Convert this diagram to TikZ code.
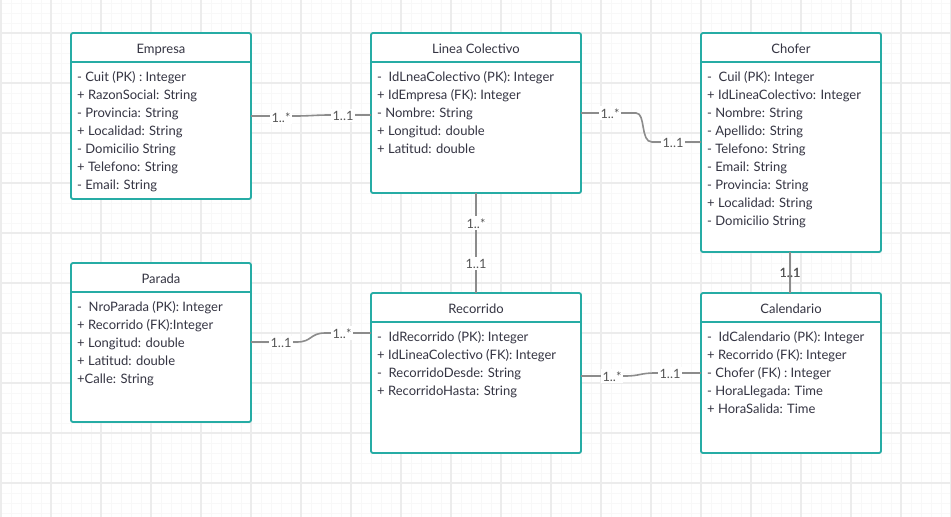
\documentclass[tikz,border=0pt]{standalone}
\usepackage{fontspec}
\setmainfont{Lato}
\usetikzlibrary{calc}
\definecolor{teal1}{RGB}{38,172,165}
\definecolor{txt}{RGB}{52,52,66}
\definecolor{conncol}{RGB}{140,140,140}
\definecolor{lblcol}{RGB}{85,85,85}
\definecolor{gridminor}{RGB}{248,248,248}
\definecolor{gridmajor}{RGB}{236,236,236}
\tikzset{
  umlbox/.style={draw=teal1, line width=1.8pt, rounded corners=2pt, fill=white, outer sep=0pt, inner sep=0pt, anchor=north west},
  hdr/.style={draw=teal1, line width=1.8pt},
  ttl/.style={font=\fontsize{13}{15}\selectfont, text=txt, anchor=mid, inner sep=0pt, yshift=-2.5pt},
  attr/.style={font=\fontsize{13}{15}\selectfont, text=txt, anchor=mid west, inner sep=0pt, yshift=-2.5pt},
  conn/.style={draw=conncol, line width=1.6pt},
  mult/.style={font=\fontsize{12.8}{14}\selectfont, text=lblcol, fill=white, inner sep=2pt, anchor=mid, yshift=-2.5pt},
  multnf/.style={font=\fontsize{12.8}{14}\selectfont, text=lblcol, inner sep=0pt, anchor=mid, yshift=-2.5pt},
}
\begin{document}
\begin{tikzpicture}[x=1pt,y=-1pt]
\useasboundingbox (0,0) rectangle (951,517);
\fill[white] (0,0) rectangle (951,517);
% grid
\foreach \x in {1,11,...,951} \draw[gridminor, line width=0.8pt] (\x,0) -- (\x,517);
\foreach \y in {3,13,...,517} \draw[gridminor, line width=0.8pt] (0,\y) -- (951,\y);
\foreach \x in {1,51,...,951} \draw[gridmajor, line width=1.2pt] (\x,0) -- (\x,517);
\foreach \y in {33,83,...,517} \draw[gridmajor, line width=1.2pt] (0,\y) -- (951,\y);

% boxes
\node[umlbox, minimum width=180pt, minimum height=166pt] (empresa) at (71,33) {};
\node[umlbox, minimum width=210pt, minimum height=160pt] (linea) at (371,33) {};
\node[umlbox, minimum width=180pt, minimum height=219pt] (chofer) at (701,33) {};
\node[umlbox, minimum width=180pt, minimum height=159pt] (parada) at (71,263) {};
\node[umlbox, minimum width=210pt, minimum height=160pt] (recorrido) at (371,293) {};
\node[umlbox, minimum width=180pt, minimum height=160pt] (calendario) at (701,293) {};

\foreach \b in {empresa,linea,chofer,parada,recorrido,calendario}
  \draw[hdr] ([shift={(0,29)}]\b.north west) -- ([shift={(0,29)}]\b.north east);

% titles
\node[ttl] at ([shift={(0,15)}]empresa.north) {Empresa};
\node[ttl] at ([shift={(0,15)}]linea.north) {Linea Colectivo};
\node[ttl] at ([shift={(0,15)}]chofer.north) {Chofer};
\node[ttl] at ([shift={(0,15)}]parada.north) {Parada};
\node[ttl] at ([shift={(0,15)}]recorrido.north) {Recorrido};
\node[ttl] at ([shift={(0,15)}]calendario.north) {Calendario};

% attributes
\foreach \t [count=\i] in {{- Cuit (PK) : Integer},{+ RazonSocial: String},{- Provincia: String},{+ Localidad: String},{- Domicilio String},{+ Telefono: String},{- Email: String}}
  \node[attr] at ([shift={(6,{25+18*\i})}]empresa.north west) {\t};
\foreach \t [count=\i] in {{-\ \ IdLneaColectivo (PK): Integer},{+ IdEmpresa (FK): Integer},{- Nombre: String},{+ Longitud: double},{+ Latitud: double}}
  \node[attr] at ([shift={(6,{25+18*\i})}]linea.north west) {\t};
\foreach \t [count=\i] in {{-\ \ Cuil (PK): Integer},{+ IdLineaColectivo: Integer},{- Nombre: String},{- Apellido: String},{- Telefono: String},{- Email: String},{- Provincia: String},{+ Localidad: String},{- Domicilio String}}
  \node[attr] at ([shift={(6,{25+18*\i})}]chofer.north west) {\t};
\foreach \t [count=\i] in {{-\ \ NroParada (PK): Integer},{+ Recorrido (FK):Integer},{+ Longitud: double},{+ Latitud: double},{+Calle: String}}
  \node[attr] at ([shift={(6,{25+18*\i})}]parada.north west) {\t};
\foreach \t [count=\i] in {{-\ \ IdRecorrido (PK): Integer},{+ IdLineaColectivo (FK): Integer},{-\ \ RecorridoDesde: String},{+ RecorridoHasta: String}}
  \node[attr] at ([shift={(6,{25+18*\i})}]recorrido.north west) {\t};
\foreach \t [count=\i] in {{-\ \ IdCalendario (PK): Integer},{+ Recorrido (FK): Integer},{- Chofer (FK) : Integer},{- HoraLlegada: Time},{+ HoraSalida: Time}}
  \node[attr] at ([shift={(6,{25+18*\i})}]calendario.north west) {\t};

% connector end points
\coordinate (e1) at ([shift={(0,83)}]empresa.north east);
\coordinate (l1) at ([shift={(0,82)}]linea.north west);
\coordinate (l2) at ([shift={(0,80)}]linea.north east);
\coordinate (c1) at ([shift={(0,109)}]chofer.north west);
\coordinate (p1) at ([shift={(0,79)}]parada.north east);
\coordinate (r1) at ([shift={(0,40)}]recorrido.north west);
\coordinate (r2) at ([shift={(0,83)}]recorrido.north east);
\coordinate (k1) at ([shift={(0,80)}]calendario.north west);

% Empresa - Linea
\draw[conn] (e1) -- ++(44,0) .. controls +(15,0) and +(-15,0) .. ($(l1)+(-41,0)$) -- (l1);
\node[mult] at ([shift={(30,1)}]e1) {1..*};
\node[mult] at ([shift={(-28,0)}]l1) {1..1};
% Linea - Chofer
\draw[conn] (l2) -- ++(55,0) .. controls +(10,0) and +(-12,0) .. ($(c1)+(-49,0)$) -- (c1);
\node[mult] at ([shift={(29,0)}]l2) {1..*};
\node[mult] at ([shift={(-28,0)}]c1) {1..1};
% Linea - Recorrido
\draw[conn] (linea.south) -- (recorrido.north);
\node[mult] at ([shift={(0,30)}]linea.south) {1..*};
\node[mult] at ([shift={(0,-30)}]recorrido.north) {1..1};
% Chofer - Calendario
\draw[conn] ([shift={(-1,0)}]chofer.south) -- ([shift={(-1,0)}]calendario.north);
\node[multnf] at ([shift={(-1,20)}]chofer.south) {1..1};
\node[multnf] at ([shift={(-1,-21)}]calendario.north) {1..1};
% Parada - Recorrido
\draw[conn] (p1) -- ++(46,0) .. controls +(15,0) and +(-15,0) .. ($(r1)+(-46,0)$) -- (r1);
\node[mult] at ([shift={(30,0)}]p1) {1..1};
\node[mult] at ([shift={(-29,0)}]r1) {1..*};
% Recorrido - Calendario
\draw[conn] (r2) -- ++(44,0) .. controls +(15,0) and +(-15,0) .. ($(k1)+(-46,0)$) -- (k1);
\node[mult] at ([shift={(31,0)}]r2) {1..*};
\node[mult] at ([shift={(-31,0)}]k1) {1..1};
\end{tikzpicture}
\end{document}
